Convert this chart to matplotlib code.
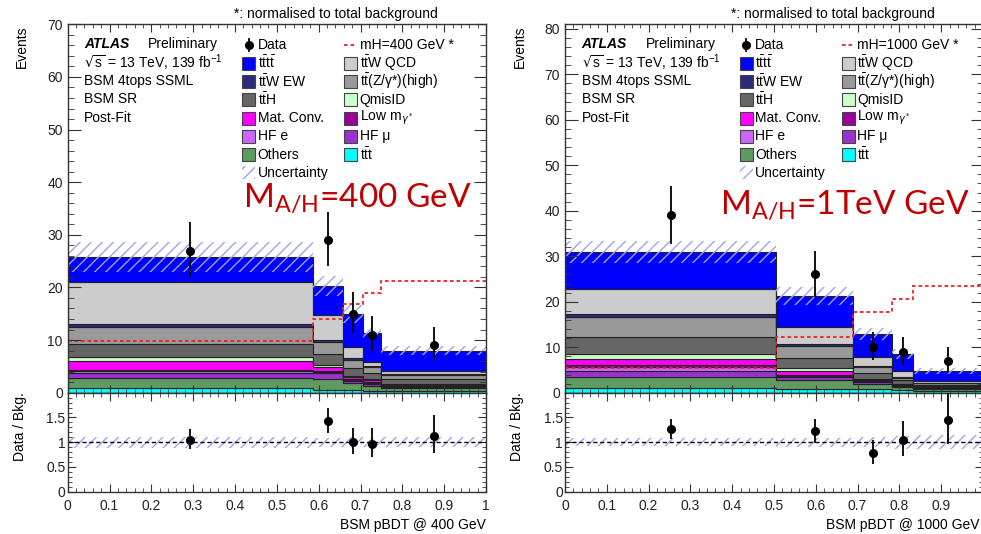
import numpy as np
import matplotlib.pyplot as plt
from matplotlib.patches import Rectangle
from matplotlib.ticker import MultipleLocator, FuncFormatter

plt.rcParams['font.family'] = ['Liberation Sans', 'DejaVu Sans']
plt.rcParams['hatch.linewidth'] = 1.0

# ---------------------------------------------
# Datos, procesos de abajo hacia arriba

nombres = [r'$\mathregular{t\bar{t}t}$', 'Others', 'HF μ', 'HF e', r'Low m$_{\gamma^*}$',
           'Mat. Conv.', 'QmisID', r'$\mathregular{t\bar{t}}$H',
           r'$\mathregular{t\bar{t}}$(Z/γ*)(high)', r'$\mathregular{t\bar{t}}$W EW',
           r'$\mathregular{t\bar{t}}$W QCD', r'$\mathregular{t\bar{t}t\bar{t}}$']
colores = ['#00ffff', '#5f9a62', '#9933cc', '#cc66ff', '#990099', '#ff00ff',
           '#ccffcc', '#666666', '#999999', '#2e2a80', '#cccccc', '#0000ff']

# panel izquierdo: 400 GeV
bordes_400 = [0, 0.587, 0.659, 0.705, 0.749, 1.0]
ttt_400 = [0.8, 0.6, 0.5, 0.4, 0.35]
others_400 = [2.05, 2.0, 1.4, 0.8, 0.45]
hfmu_400 = [0.95, 1.1, 0.4, 0.4, 0.3]
hfe_400 = [0.3, 0.3, 0.15, 0.2, 0.1]
lowm_400 = [0.2, 0.2, 0.1, 0.3, 0.2]
matconv_400 = [1.7, 0.7, 0.35, 0.3, 0.1]
qmisid_400 = [0.7, 0.3, 0.3, 0.2, 0.1]
tth_400 = [2.5, 2.2, 1.4, 1.2, 1.0]
ttz_400 = [3.3, 2.2, 1.7, 1.0, 0.7]
ttwew_400 = [0.6, 0.4, 0.3, 0.2, 0.2]
ttwqcd_400 = [7.9, 4.8, 2.0, 0.9, 0.6]
tttt_400 = [4.8, 5.5, 6.4, 5.4, 3.9]
incert_400 = [2.85, 1.9, 1.7, 1.05, 0.8]
datos_400 = [27, 29, 15, 11, 9]
err_bajo_400 = [5.0, 5.0, 3.7, 3.1, 2.8]
err_alto_400 = [5.5, 5.4, 4.2, 3.6, 3.4]
senal_400 = [9.8, 14.0, 16.8, 19.0, 21.2]

# panel derecho: 1000 GeV
bordes_1000 = [0, 0.505, 0.69, 0.783, 0.833, 1.0]
ttt_1000 = [1.0, 0.9, 0.8, 0.7, 0.4]
others_1000 = [2.5, 1.9, 1.2, 0.6, 0.4]
hfmu_1000 = [1.3, 0.6, 0.3, 0.2, 0.2]
hfe_1000 = [0.9, 0.2, 0.2, 0.1, 0.1]
lowm_1000 = [0.4, 0.3, 0.2, 0.15, 0.1]
matconv_1000 = [1.2, 0.9, 0.2, 0.15, 0.1]
qmisid_1000 = [1.1, 0.6, 0.2, 0.1, 0.1]
tth_1000 = [3.8, 2.3, 1.2, 0.7, 0.4]
ttz_1000 = [4.4, 2.5, 1.3, 0.6, 0.3]
ttwew_1000 = [0.6, 0.4, 0.3, 0.2, 0.1]
ttwqcd_1000 = [5.5, 3.8, 1.9, 1.3, 0.3]
tttt_1000 = [8.3, 6.9, 5.1, 3.8, 2.3]
incert_1000 = [2.4, 2.0, 1.35, 1.1, 0.7]
datos_1000 = [39, 26, 10, 9, 7]
err_bajo_1000 = [6.2, 4.9, 2.8, 2.8, 2.4]
err_alto_1000 = [6.4, 5.2, 3.4, 3.3, 3.0]
senal_1000 = [5.35, 12.2, 17.7, 20.6, 23.45]

pila_400 = [ttt_400, others_400, hfmu_400, hfe_400, lowm_400, matconv_400,
            qmisid_400, tth_400, ttz_400, ttwew_400, ttwqcd_400, tttt_400]
pila_1000 = [ttt_1000, others_1000, hfmu_1000, hfe_1000, lowm_1000, matconv_1000,
             qmisid_1000, tth_1000, ttz_1000, ttwew_1000, ttwqcd_1000, tttt_1000]

# ---------------------------------------------

W, H = 981, 534
fig = plt.figure(figsize=(W / 100, H / 100), dpi=100)


def caja(x0, y0, x1, y1):
    # pixeles (origen arriba a la izquierda) -> fraccion de figura
    return [x0 / W, 1 - y1 / H, (x1 - x0) / W, (y1 - y0) / H]


color_marco = '#333333'
color_hatch = '#a0a4f0'
fs = 10


def estilo(ax, ratio=False, ocultar_uno=False):
    for s in ax.spines.values():
        s.set_color(color_marco)
        s.set_linewidth(1.0)
    ax.tick_params(which='both', direction='in', top=True, right=True, colors=color_marco,
                   labelcolor='#222222', labelsize=fs)
    ax.xaxis.set_major_locator(MultipleLocator(0.1))
    ax.xaxis.set_minor_locator(MultipleLocator(0.02))
    if ratio:
        ax.xaxis.set_major_formatter(FuncFormatter(
            lambda v, p: '' if (ocultar_uno and v > 0.95) else f'{v:g}'))
        ax.tick_params(axis='y', which='major', length=6, pad=1.5)
        ax.tick_params(axis='y', which='minor', length=3)
        ax.tick_params(axis='x', which='major', length=6, pad=5)
        ax.tick_params(axis='x', which='minor', length=3)
    else:
        ax.tick_params(axis='y', which='major', length=9, pad=3.5)
        ax.tick_params(axis='y', which='minor', length=4.5)
        ax.tick_params(axis='x', which='major', length=6, labelbottom=False)
        ax.tick_params(axis='x', which='minor', length=3)


def panel(x0, x1, pila, bordes, datos, err_bajo, err_alto, incert, senal, ymax,
          etiqueta_senal, texto_grande, pos_grande, xlabel, x_xlabel, ocultar_uno):
    ax = fig.add_axes(caja(x0, 24.3, x1, 392.7))
    axr = fig.add_axes(caja(x0, 392.7, x1, 491.7))
    ancho = x1 - x0
    alto = 392.7 - 24.3

    def rel(dx, dy):
        return dx / ancho, 1 - dy / alto

    bordes = np.array(bordes)
    centros = 0.5 * (bordes[1:] + bordes[:-1])
    abajo = np.zeros(len(centros))
    for valores, color in zip(pila, colores):
        arriba = abajo + np.array(valores)
        ax.stairs(arriba, bordes, baseline=abajo, fill=True, facecolor=color,
                  edgecolor='#222222', linewidth=0.8)
        abajo = arriba
    total = abajo
    incert = np.array(incert)
    ax.stairs(total + incert, bordes, baseline=total - incert, fill=True, facecolor='none',
              edgecolor=color_hatch, hatch='///', linewidth=0)
    ax.stairs(senal, bordes, baseline=None, color='#e8252a', linestyle=(0, (2, 1.6)), linewidth=1.3)
    ax.errorbar(centros, datos, yerr=[err_bajo, err_alto], fmt='o', color='black',
                ms=5.5, elinewidth=1.3, capsize=0, zorder=5)
    ax.set_xlim(0, 1)
    ax.set_ylim(0, ymax)
    ax.yaxis.set_major_locator(MultipleLocator(10))
    ax.yaxis.set_minor_locator(MultipleLocator(2))
    estilo(ax)

    # ratio
    datos = np.array(datos, dtype=float)
    r = datos / total
    axr.fill_between(bordes, np.append(1 - incert / total, (1 - incert / total)[-1]),
                     np.append(1 + incert / total, (1 + incert / total)[-1]), step='post',
                     facecolor='none', edgecolor=color_hatch, hatch='///', linewidth=0)
    axr.axhline(1, color='black', linestyle=(0, (3, 2)), linewidth=1.0)
    axr.errorbar(centros, r, yerr=[np.array(err_bajo) / total, np.array(err_alto) / total],
                 fmt='o', color='black', ms=5.5, elinewidth=1.3, capsize=0, zorder=5)
    axr.set_xlim(0, 1)
    axr.set_ylim(0, 2)
    axr.set_yticks([0, 0.5, 1, 1.5])
    axr.set_yticklabels(['0', '0.5', '1', '1.5'])
    axr.yaxis.set_minor_locator(MultipleLocator(0.1))
    estilo(axr, ratio=True, ocultar_uno=ocultar_uno)

    # textos ATLAS
    ax.text(*rel(16.5, 20), 'ATLAS', transform=ax.transAxes, fontsize=fs,
            fontweight='bold', fontstyle='italic', va='center')
    ax.text(*rel(80.5, 20), 'Preliminary', transform=ax.transAxes, fontsize=fs, va='center')
    lineas = [r'$\mathregular{\sqrt{s}}$ = 13 TeV, 139 fb$^{\mathregular{-1}}$', 'BSM 4tops SSML',
              'BSM SR', 'Post-Fit']
    for i, t in enumerate(lineas):
        ax.text(*rel(16.5, 38.3 + 18.3 * i), t, transform=ax.transAxes, fontsize=fs, va='center')

    # leyenda
    col1 = [11, 9, 7, 5, 3, 1]
    col2 = [10, 8, 6, 4, 2, 0]
    cx = [174.5, 276.5]
    lado = 13

    def fila_y(i):
        return 20.5 + 18.3 * i

    for c, idxs in enumerate([col1, col2]):
        for i, k in enumerate(idxs):
            yc = fila_y(i + 1)
            bx, by = rel(cx[c], yc + lado / 2)
            ax.add_patch(Rectangle((bx, by), lado / ancho, lado / alto, transform=ax.transAxes,
                                   facecolor=colores[k], edgecolor='#444444', linewidth=0.8,
                                   clip_on=False))
            ax.text(*rel(cx[c] + 15.5, yc), nombres[k], transform=ax.transAxes, fontsize=fs,
                    va='center')
    # Data
    mx, my = rel(cx[0] + lado / 2, fila_y(0))
    ax.plot([mx], [my], 'o', color='black', ms=5.5, transform=ax.transAxes, clip_on=False)
    ax.plot([mx, mx], [rel(0, fila_y(0) - 6)[1], rel(0, fila_y(0) + 6)[1]], color='black',
            lw=1.3, transform=ax.transAxes, clip_on=False)
    ax.text(*rel(cx[0] + 15.5, fila_y(0)), 'Data', transform=ax.transAxes, fontsize=fs, va='center')
    # senal
    ax.plot([rel(cx[1], 0)[0], rel(cx[1] + lado, 0)[0]], [rel(0, fila_y(0))[1]] * 2,
            color='#e8252a', linestyle=(0, (2, 1.6)), lw=1.3, transform=ax.transAxes)
    ax.text(*rel(cx[1] + 15.5, fila_y(0)), etiqueta_senal, transform=ax.transAxes,
            fontsize=fs, va='center')
    # incertidumbre
    bx, by = rel(cx[0], fila_y(7) + lado / 2)
    ax.add_patch(Rectangle((bx, by), lado / ancho, lado / alto, transform=ax.transAxes,
                           facecolor='none', edgecolor=color_hatch, hatch='///', linewidth=0))
    ax.text(*rel(cx[0] + 15.5, fila_y(7)), 'Uncertainty', transform=ax.transAxes,
            fontsize=fs, va='center')

    ax.text(*rel(370, -10.5), '*: normalised to total background', transform=ax.transAxes,
            fontsize=fs, ha='right', va='center')

    ax.text(*rel(*pos_grande), texto_grande, transform=ax.transAxes, fontsize=24,
            family=['Lato', 'DejaVu Sans'], color='#c00000', va='baseline')

    fig.text((x0 - 45.5) / W, 1 - 25 / H, 'Events', rotation=90, ha='center', va='top', fontsize=fs)
    fig.text((x0 - 47.5) / W, 1 - 392 / H, 'Data / Bkg.', rotation=90, ha='center', va='top', fontsize=fs)
    fig.text(x_xlabel / W, 1 - 525 / H, xlabel, ha='right', va='center', fontsize=fs)
    return ax, axr


panel(67.7, 486, pila_400, bordes_400, datos_400, err_bajo_400, err_alto_400, incert_400,
      senal_400, 70, 'mH=400 GeV *', r'$\mathregular{M_{A/H}}$=400 GeV', (175.3, 182.7),
      'BSM pBDT @ 400 GeV', 486, False)
panel(565, 983, pila_1000, bordes_1000, datos_1000, err_bajo_1000, err_alto_1000, incert_1000,
      senal_1000, 81, 'mH=1000 GeV *', r'$\mathregular{M_{A/H}}$=1TeV GeV', (155, 190),
      'BSM pBDT @ 1000 GeV', 979, True)

plt.savefig('out.png', dpi=100)
